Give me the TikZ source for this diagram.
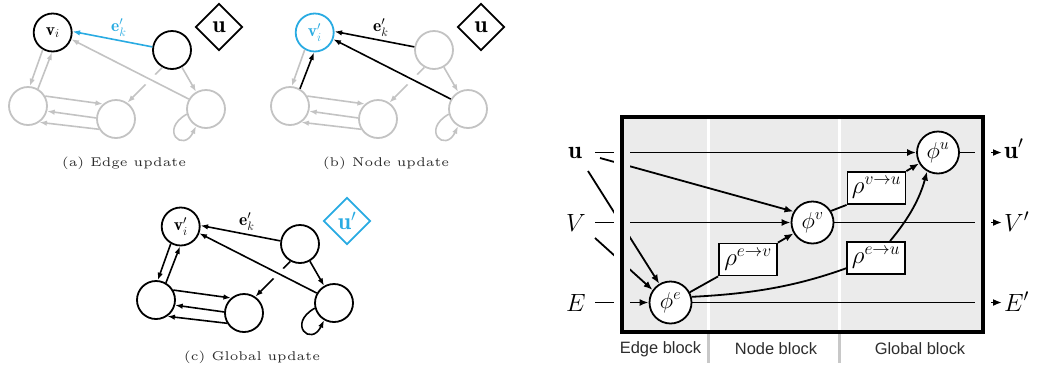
\RequirePackage{fix-cm}
\documentclass[tikz,border=0pt]{standalone}
\usepackage{graphicx}
\usepackage{fontspec}
\usetikzlibrary{arrows.meta,shapes.geometric}
\newfontfamily\blockfont{Liberation Sans}
\definecolor{inact}{RGB}{195,195,195}
\definecolor{gnblue}{RGB}{41,171,226}
\definecolor{boxgray}{RGB}{235,235,235}
\definecolor{divgray}{RGB}{200,200,200}
\definecolor{captc}{RGB}{45,45,45}
\newcommand{\vlabfont}{\fontsize{17.5}{20}\selectfont}
\newcommand{\ulabfont}{\fontsize{24}{28}\selectfont}
\tikzset{
  gnode/.style={circle, minimum size=38bp, inner sep=0pt, line width=1.8bp, font=\vlabfont},
  nblack/.style={gnode, draw=black},
  ngray/.style={gnode, draw=inact},
  nblue/.style={gnode, draw=gnblue, text=gnblue},
  gdia/.style={diamond, minimum width=47bp, minimum height=47bp, inner sep=0pt, line width=1.8bp, font=\ulabfont},
  dblack/.style={gdia, draw=black},
  dblue/.style={gdia, draw=gnblue, text=gnblue},
  gE/.style={line width=1.6bp, -{Latex[length=7.5bp,width=5.5bp]}},
  halo/.style={preaction={draw=white, line width=13bp, shorten <=30bp, shorten >=30bp, arrows=-}},
  capt/.style={text=captc, inner sep=0pt},
  phin/.style={circle, draw, fill=white, minimum size=42bp, inner sep=0pt, line width=1.8bp, font=\fontsize{23}{27}\selectfont},
  rhon/.style={rectangle, draw, fill=white, minimum width=58bp, minimum height=32bp, inner sep=0pt, line width=1.8bp, font=\fontsize{25}{30}\selectfont},
  ioL/.style={inner sep=0pt, font=\fontsize{25}{30}\selectfont},
  ioR/.style={ioL, inner xsep=2bp, anchor=base west},
  conn/.style={line width=1.8bp},
  carr/.style={conn, -{Latex[length=9bp,width=7bp]}},
  blk/.style={font=\blockfont\fontsize{16.5}{20}\selectfont, text=captc},
}
\newcommand{\gnpanel}[3]{%
  \node[nV] (vi) at (52.7,32.5) {#1};
  \node[nS] (s) at (172,50) {};
  \node[nU] (u) at (219,27) {#2};
  \node[nO] (bl) at (28,106) {};
  \node[nO] (bm) at (116,119) {};
  \node[nO] (br) at (206,109) {};
  \draw[eO] (s) -- (br);
  \draw[eO] (s.241) -- (bm.55);
  \draw[eV, halo] (br.150) -- (vi.340);
  \draw[eO] (vi.240) -- (bl.85);
  \draw[eV] (bl.60) -- (vi.268);
  \draw[eO] (bl.30) -- (bm.131);
  \draw[eO] (bm.177) -- (bl.345);
  \draw[eO] (bm.211) -- (bl.305);
  \draw[eO] (br.195) .. controls +(-28,16) and +(-13,27) .. (br.240);
  \draw[eK] (s.171) -- node[lbl, pos=0.42, above=0bp] {$\mathbf{e}'_k$} (vi.3);
  \node[capt] (cap) at (124,163) {\scalebox{2.55}{\fontsize{5}{6}\selectfont #3}};
}
\begin{document}
\begin{tikzpicture}[x=1bp, y=-1bp]
\useasboundingbox (0,0) rectangle (1046,369);
% ---------- panel (a)
\begin{scope}[name prefix=a-, nV/.style={nblack}, nS/.style={nblack}, nO/.style={ngray}, nU/.style={dblack},
  eK/.style={gE,draw=gnblue}, eV/.style={gE,draw=inact}, eO/.style={gE,draw=inact}, lbl/.style={font=\vlabfont,text=gnblue}]
\gnpanel{$\mathbf{v}_i$}{$\mathbf{u}$}{(a) Edge update}
\end{scope}
% ---------- panel (b)
\begin{scope}[shift={(262,0)}, name prefix=b-, nV/.style={nblue}, nS/.style={ngray}, nO/.style={ngray}, nU/.style={dblack},
  eK/.style={gE,draw=black}, eV/.style={gE,draw=black}, eO/.style={gE,draw=inact}, lbl/.style={font=\vlabfont,text=black}]
\gnpanel{$\mathbf{v}'_i$}{$\mathbf{u}$}{(b) Node update}
\end{scope}
% ---------- panel (c)
\begin{scope}[shift={(128,194)}, name prefix=c-, nV/.style={nblack}, nS/.style={nblack}, nO/.style={nblack}, nU/.style={dblue},
  eK/.style={gE,draw=black}, eV/.style={gE,draw=black}, eO/.style={gE,draw=black}, lbl/.style={font=\vlabfont,text=black}]
\gnpanel{$\mathbf{v}'_i$}{$\mathbf{u}'$}{(c) Global update}
\end{scope}
% ---------- right block diagram
\draw[divgray, line width=3bp] (708,332) -- (708,363);
\draw[divgray, line width=3bp] (839,332) -- (839,363);
\fill[boxgray] (622,117) rectangle (983,332);
\draw[white, line width=3bp] (708,117) -- (708,332);
\draw[white, line width=3bp] (839,117) -- (839,332);
\node[ioL] (uL) at (575,152.5) {$\mathbf{u}$};
\node[ioL] (VL) at (576,222.5) {$V$};
\node[ioL] (EL) at (576,302.5) {$E$};
\node[ioR] (uR) at (1002,158) {$\mathbf{u}'$};
\node[ioR] (VR) at (1002,231) {$V'$};
\node[ioR] (ER) at (1002,311) {$E'$};
\node[phin] (phie) at (670.5,302.5) {$\phi^e$};
\node[phin] (phiv) at (812.5,222.5) {$\phi^v$};
\node[phin] (phiu) at (938,152.5) {$\phi^u$};
\node[rhon] (rhoev) at (748,259.5) {$\rho^{e\to v}$};
\node[rhon] (rhovu) at (876.5,188) {$\rho^{v\to u}$};
\node[rhon] (rhoeu) at (876,258) {$\rho^{e\to u}$};
\draw[carr] ([xshift=20bp]uL.center) -- (phiu.west);
\draw[carr] ([xshift=25bp,yshift=-5.5bp]uL.center) -- (phiv.150);
\draw[carr] ([xshift=13bp,yshift=-18.5bp]uL.center) -- (phie.121);
\draw[carr] ([xshift=19bp]VL.center) -- (phiv.west);
\draw[carr] ([xshift=19bp,yshift=-15.5bp]VL.center) -- (phie.145);
\draw[carr] ([xshift=19bp]EL.center) -- (phie.west);
\draw[conn] (phie.28) -- (rhoev.south west);
\draw[carr] (rhoev.north east) -- (phiv.210);
\draw[conn] (phie.15) .. controls +(60,-3) and +(-50,18) .. (rhoeu.199);
\draw[carr] (phie.east) -- (phie.east -| ER.west);
\draw[conn] (phiv.32) -- (rhovu.south west);
\draw[carr] (rhovu.north east) -- (phiu.210);
\draw[carr] ([xshift=14bp]rhoeu.north) .. controls +(20,-24) and +(-7,26) .. (phiu.240);
\draw[carr] (phiv.east) -- (phiv.east -| VR.west);
\draw[carr] (phiu.east) -- (phiu.east -| uR.west);
% gaps where connectors cross the frame
\fill[white] (614,117) rectangle (622,332);
\fill[boxgray] (622,117) rectangle (630,332);
\fill[boxgray] (975,117) rectangle (983,332);
\fill[white] (983,117) rectangle (991,332);
\draw[line width=3.5bp] (622,117) rectangle (983,332);
\node[blk] (lbE) at (660.5,349) {Edge block};
\node[blk] (lbN) at (776,349) {Node block};
\node[blk] (lbG) at (920,349) {Global block};
\end{tikzpicture}
\end{document}
